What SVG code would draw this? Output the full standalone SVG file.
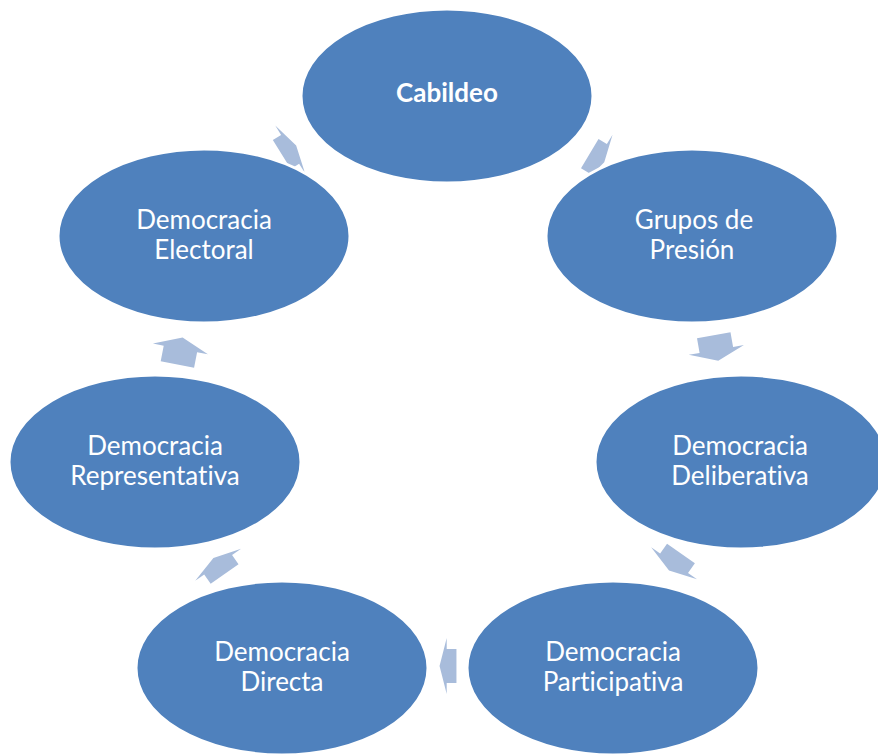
<svg xmlns="http://www.w3.org/2000/svg" xmlns:xlink="http://www.w3.org/1999/xlink" width="878" height="754" viewBox="0 0 878 754">
  <style>
    .node { fill: #4f81bd; stroke: #ffffff; stroke-width: 3; }
    .arrow { fill: #a8bcdb; }
    .lbl { font-family: Lato, "Liberation Sans", Arial, sans-serif; font-size: 26px; fill: #ffffff; text-anchor: middle; font-variant-ligatures: none; font-feature-settings: "liga" 0; }
    .bold { font-weight: bold; }
  </style>
  <defs>
    <path id="arr" d="M-13,-17 H2 V-28 L13,0 L2,28 V17 H-13 Z"/>
  </defs>
  <rect width="878" height="754" fill="#ffffff"/>
  <g id="connectors">
    <use xlink:href="#arr" href="#arr" class="arrow" transform="translate(289,150) rotate(-32) scale(0.65,1)"/>
    <use xlink:href="#arr" href="#arr" class="arrow" transform="translate(597,158) rotate(31) scale(0.65,1)"/>
    <use xlink:href="#arr" href="#arr" class="arrow" transform="translate(716,348) rotate(80)"/>
    <use xlink:href="#arr" href="#arr" class="arrow" transform="translate(675,562) rotate(125) scale(0.8,1)"/>
    <use xlink:href="#arr" href="#arr" class="arrow" transform="translate(448,666) rotate(180) scale(0.65,1)"/>
    <use xlink:href="#arr" href="#arr" class="arrow" transform="translate(219,566) rotate(-125) scale(0.75,1)"/>
    <use xlink:href="#arr" href="#arr" class="arrow" transform="translate(180,351) rotate(-79) scale(1.05,1)"/>
  </g>
  <g id="cabildeo">
    <ellipse class="node" cx="447" cy="96" rx="146" ry="87"/>
    <text class="lbl bold" x="447" y="102">Cabildeo</text>
  </g>
  <g id="grupos">
    <ellipse class="node" cx="692" cy="236" rx="146" ry="87"/>
    <text class="lbl" x="694" y="229">Grupos de</text>
    <text class="lbl" x="692" y="259">Presión</text>
  </g>
  <g id="deliberativa">
    <ellipse class="node" cx="741" cy="462" rx="146" ry="87"/>
    <text class="lbl" x="740" y="455">Democracia</text>
    <text class="lbl" x="740" y="485">Deliberativa</text>
  </g>
  <g id="participativa">
    <ellipse class="node" cx="613" cy="668" rx="146" ry="87"/>
    <text class="lbl" x="613" y="661">Democracia</text>
    <text class="lbl" x="613" y="691">Participativa</text>
  </g>
  <g id="directa">
    <ellipse class="node" cx="282" cy="668" rx="146" ry="87"/>
    <text class="lbl" x="282" y="661">Democracia</text>
    <text class="lbl" x="282" y="691">Directa</text>
  </g>
  <g id="representativa">
    <ellipse class="node" cx="155" cy="462" rx="146" ry="87"/>
    <text class="lbl" x="155" y="455">Democracia</text>
    <text class="lbl" x="155" y="485">Representativa</text>
  </g>
  <g id="electoral">
    <ellipse class="node" cx="204" cy="236" rx="146" ry="87"/>
    <text class="lbl" x="204" y="229">Democracia</text>
    <text class="lbl" x="204" y="259">Electoral</text>
  </g>
</svg>
